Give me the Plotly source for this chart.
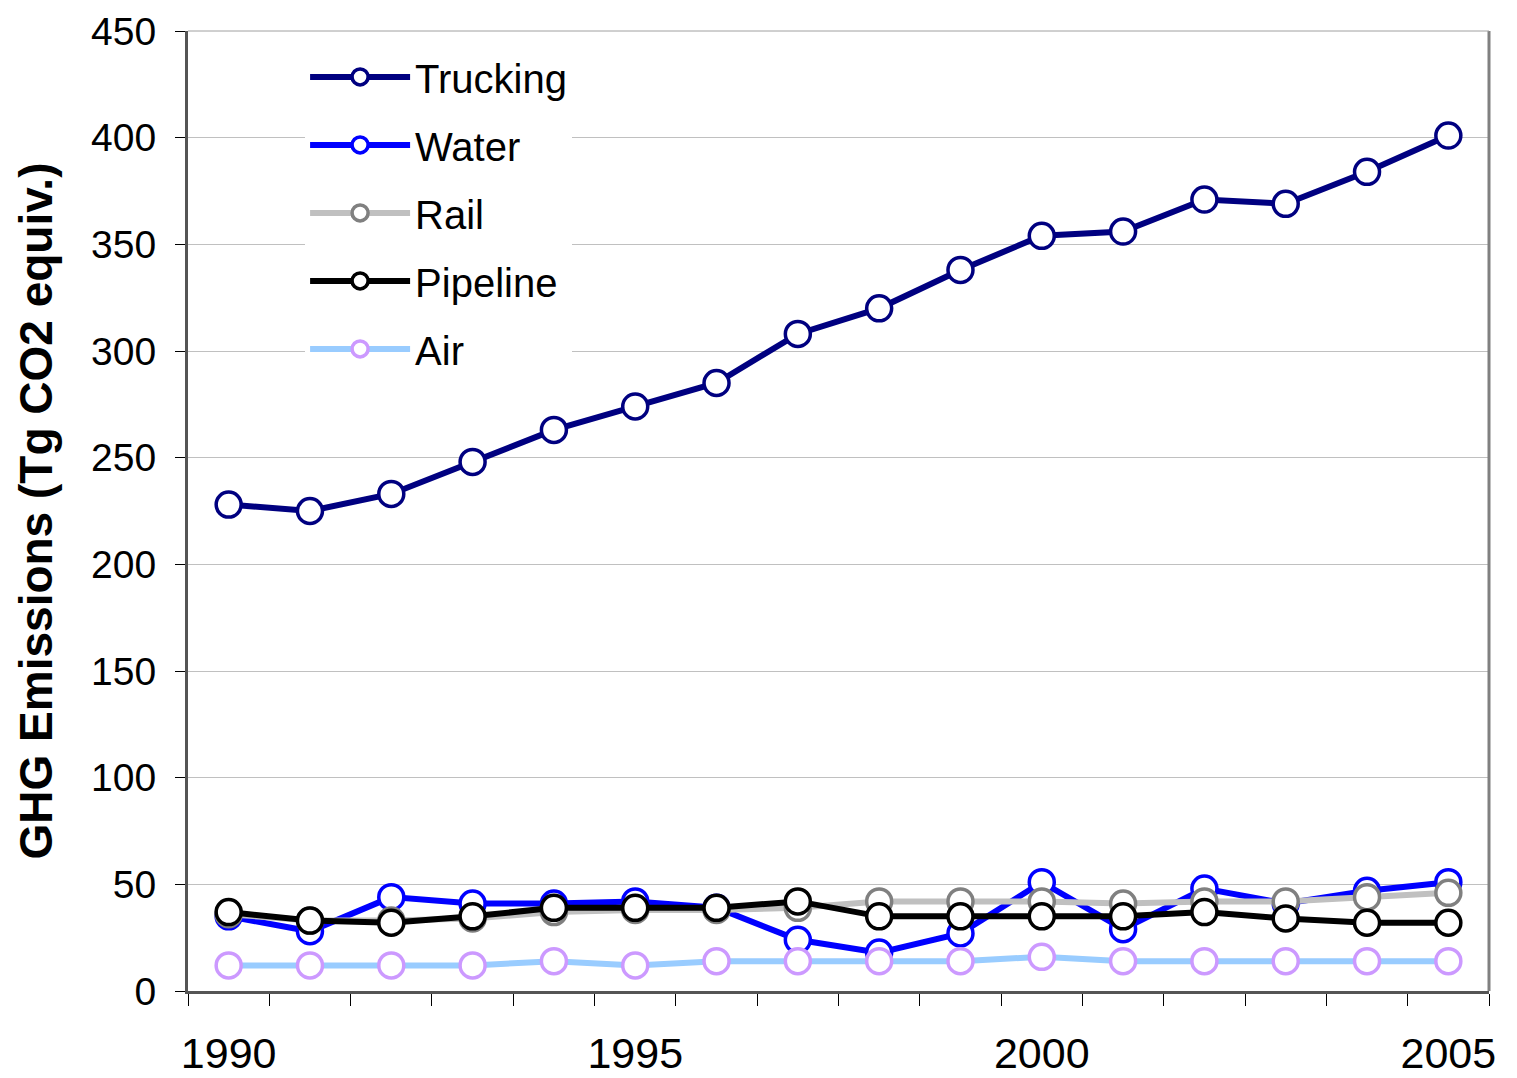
import plotly.graph_objects as go

years = list(range(1990, 2006))
trucking = [228, 225, 233, 248, 263, 274, 285, 308, 320, 338, 354, 356, 371, 369, 384, 401]
water = [35, 28, 44, 41, 41, 42, 39, 24, 18, 27, 51, 29, 48, 41, 47, 51]
rail = [36, 33, 33, 34, 37, 38, 38, 39, 42, 42, 42, 41, 42, 42, 44, 46]
pipeline = [37, 33, 32, 35, 39, 39, 39, 42, 35, 35, 35, 35, 37, 34, 32, 32]
air = [12, 12, 12, 12, 14, 12, 14, 14, 14, 14, 16, 14, 14, 14, 14, 14]

series = [
    ("Trucking", trucking, "#000080", "#000080"),
    ("Water", water, "#0000FF", "#0000FF"),
    ("Rail", rail, "#C0C0C0", "#808080"),
    ("Pipeline", pipeline, "#000000", "#000000"),
    ("Air", air, "#99CCFF", "#CC99FF"),
]

fig = go.Figure()
for name, vals, lc, mc in series:
    fig.add_trace(go.Scatter(
        x=years, y=vals, name=name, mode="lines+markers", legendgroup=name,
        line=dict(color=lc, width=6),
        marker=dict(symbol="circle", size=25, color="white", line=dict(color=mc, width=3.5)),
    ))

font_family = "Liberation Sans, Arial, sans-serif"
fig.update_layout(
    width=1509, height=1070,
    margin=dict(l=180, r=28, t=23, b=87),
    paper_bgcolor="white", plot_bgcolor="white",
    font=dict(family=font_family, color="black"),
    showlegend=True,
    legend=dict(
        x=0.09, y=0.986, xanchor="left", yanchor="top",
        bgcolor="white", borderwidth=0,
        font=dict(size=40, family=font_family),
        tracegroupgap=13, itemwidth=100,
    ),
    xaxis=dict(
        range=[1989.5, 2005.5], automargin=False,
        tickmode="array", tickvals=[1990, 1995, 2000, 2005],
        ticktext=["1990", "1995", "2000", "2005"],
        ticks="", ticklabelstandoff=22, ticklabeloverflow="allow",
        tickfont=dict(size=43),
        minor=dict(ticks="outside", tick0=1989.5, dtick=1, ticklen=12, tickcolor="black", tickwidth=1, showgrid=False),
        showgrid=False, zeroline=False,
        showline=True, linecolor="#555555", linewidth=3, mirror=False,
    ),
    yaxis=dict(
        range=[0, 450], tickmode="linear", tick0=0, dtick=50, automargin=False,
        ticks="outside", ticklen=10, tickcolor="black",
        ticklabelstandoff=11, ticklabeloverflow="allow",
        tickfont=dict(size=39),
        showgrid=True, gridcolor="#C0C0C0", gridwidth=1,
        zeroline=False,
        showline=True, linecolor="#555555", linewidth=3, mirror=False,
        title=dict(text="<b>GHG Emissions (Tg CO2 equiv.)</b>", font=dict(size=46), standoff=25),
    ),
)
# right and top frame
fig.add_shape(type="line", xref="paper", yref="paper", x0=1, x1=1, y0=0, y1=1,
              line=dict(color="#808080", width=3))
fig.add_shape(type="line", xref="paper", yref="paper", x0=0, x1=1, y0=1, y1=1,
              line=dict(color="#A0A0A0", width=1))

fig.write_html("out.html")
